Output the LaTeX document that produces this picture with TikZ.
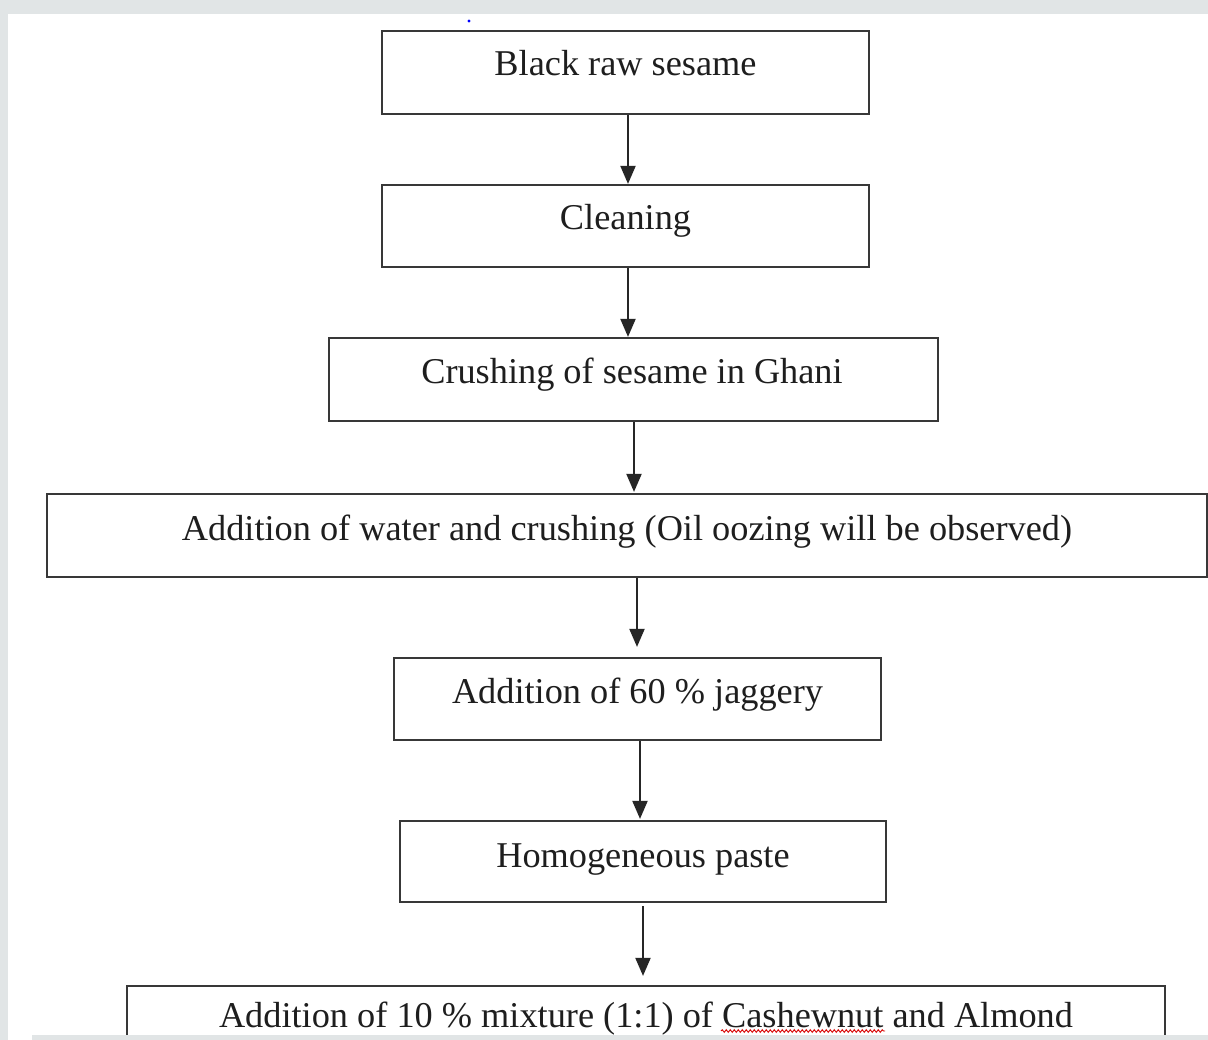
\documentclass[tikz,border=0pt]{standalone}
\usepackage{fontspec}
\setmainfont{Liberation Serif}
\usetikzlibrary{arrows.meta,decorations.pathmorphing}
\definecolor{bggray}{HTML}{E1E5E6}
\definecolor{boxline}{HTML}{383838}
\definecolor{txt}{HTML}{1E1E1E}
\begin{document}
\begin{tikzpicture}[x=1pt,y=-1pt,
  stepbox/.style={draw=boxline, line width=2.2pt, rectangle, inner sep=0pt, fill=white},
  lbl/.style={anchor=base, inner sep=0pt, text=txt, font=\fontsize{36.3}{40}\selectfont},
  arr/.style={draw=black!85, line width=2pt, -{Triangle[width=15pt,length=18pt]}}]
\useasboundingbox (0,0) rectangle (1208,1040);
\fill[bggray] (0,0) rectangle (1208,1040);
\fill[white] (8,14) rectangle (1208,1040);
\fill[blue] (469,21) circle (1.6);
% boxes (centre x, centre y)
\node[stepbox, minimum width=487pt, minimum height=83pt] (b1) at (625.5,72.5) {};
\node[stepbox, minimum width=487pt, minimum height=82pt] (b2) at (625.5,226) {};
\node[stepbox, minimum width=609pt, minimum height=83pt] (b3) at (633.5,379.5) {};
\node[stepbox, minimum width=1160pt, minimum height=83pt] (b4) at (627,535.5) {};
\node[stepbox, minimum width=487pt, minimum height=82pt] (b5) at (637.5,699) {};
\node[stepbox, minimum width=486pt, minimum height=81pt] (b6) at (643,861.5) {};
\node[stepbox, minimum width=1038pt, minimum height=84pt] (b7) at (646,1028) {};
% texts
\node[lbl] (t1) at (625.5,76) {Black raw sesame};
\node[lbl] (t2) at (625.5,230) {Cleaning};
\node[lbl] (t3) at (632,384) {Crushing of sesame in Ghani};
\node[lbl] (t4) at (627,540) {Addition of water and crushing (Oil oozing will be observed)};
\node[lbl] (t5) at (637.5,703) {Addition of 60 \% jaggery};
\node[lbl] (t6) at (643,867) {Homogeneous paste};
\node[lbl] (t7) at (646,1027) {Addition of 10 \% mixture (1:1) of Cashewnut and Almond};
% spell-check squiggle under "Cashewnut"
\draw[red!85!black, line width=0.9pt, decorate, decoration={snake, amplitude=1.3pt, segment length=4pt}] (721,1031) -- (885,1031);
% connectors
\draw[arr] ([xshift=2.5pt]b1.south) -- ([xshift=2.5pt]b1.south |- b2.north);
\draw[arr] ([xshift=2.5pt]b2.south) -- ([xshift=2.5pt]b2.south |- b3.north);
\draw[arr] ([xshift=0.5pt]b3.south) -- ([xshift=0.5pt,yshift=1pt]b3.south |- b4.north);
\draw[arr] ([xshift=10pt]b4.south) -- ([xshift=10pt,yshift=10pt]b4.south |- b5.north);
\draw[arr] ([xshift=2.5pt]b5.south) -- ([xshift=2.5pt,yshift=1pt]b5.south |- b6.north);
\draw[arr] ([yshift=-3pt]b6.south) -- ([yshift=9pt]b6.south |- b7.north);
% bottom gray band
\fill[bggray] (32,1035) rectangle (1208,1040);
\end{tikzpicture}
\end{document}
